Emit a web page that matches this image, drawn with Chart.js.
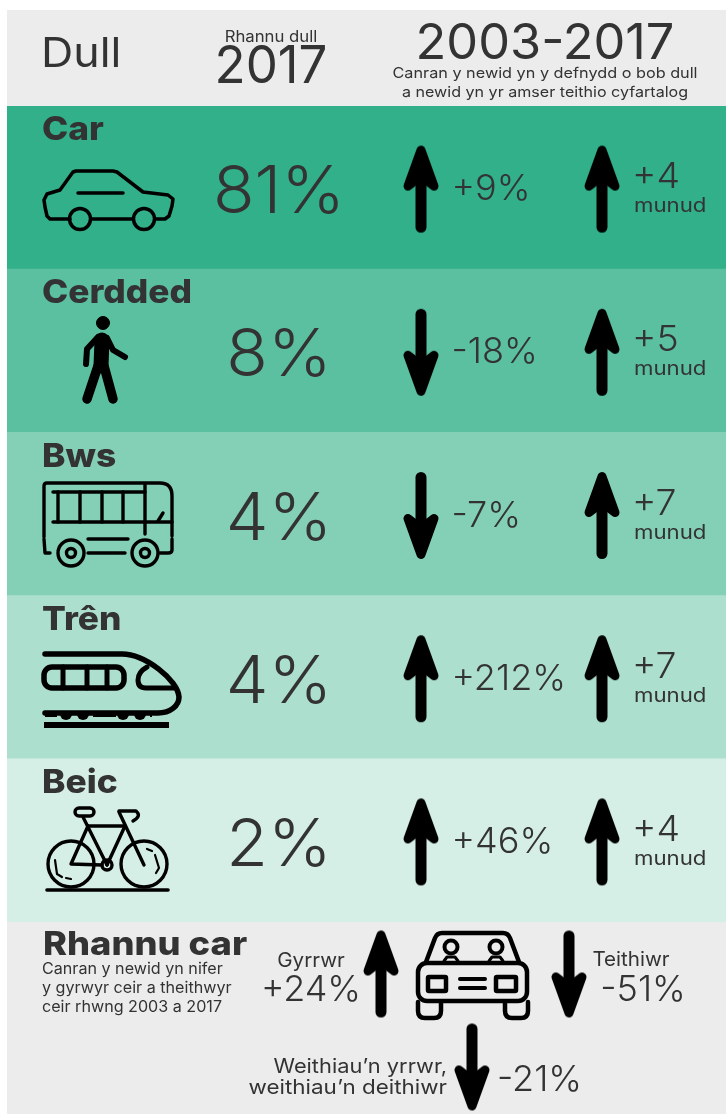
<!DOCTYPE html>
<html>
<head>
<meta charset="utf-8">
<title>Dull</title>
<script src="https://cdn.jsdelivr.net/npm/chart.js@4"></script>
<style>
	html, body { margin: 0; padding: 0; background: #fff; }
	canvas { display: block; }
</style>
</head>
<body>
<canvas id="modesChart" width="726" height="922"></canvas>
<canvas id="shareChart" width="726" height="192"></canvas>
<script>
//Data

let modes = ['Car', 'Cerdded', 'Bws', 'Trên', 'Beic'];
let modeShare = [81, 8, 4, 4, 2];
let useChange = [9, -18, -7, 212, 46];
let timeChange = [4, 5, 7, 7, 4];

let shareGroups = ['Gyrrwr', 'Teithiwr', 'Weithiau’n yrrwr, weithiau’n deithiwr'];
let shareChange = [24, -51, -21];
let shareRows = ['uchaf', 'uchaf', 'isaf'];

let bandColors = ['#31b08a', '#5bc0a0', '#84d0b7', '#addfce', '#d5efe6'];
const GREY = '#ececec';
const INK = '#333333';
const FONT = 'Inter, "Open Sans", sans-serif';

function signed(v) {
	return (v > 0 ? '+' : '') + v;
}

//Arrow marks, used as point styles

function makeArrow(up) {
	let c = document.createElement('canvas');
	c.width = 40;
	c.height = 96;
	let g = c.getContext('2d');
	g.translate(0, 3.5);
	if (!up) {
		g.translate(0, 92);
		g.scale(1, -1);
	}
	g.fillStyle = '#000';
	g.strokeStyle = '#000';
	g.lineCap = 'round';
	g.lineJoin = 'round';
	g.lineWidth = 11;
	g.beginPath();
	g.moveTo(20, 14);
	g.lineTo(20, 84);
	g.stroke();
	g.lineWidth = 9;
	g.beginPath();
	g.moveTo(20, 7);
	g.lineTo(33, 43);
	g.lineTo(20, 33);
	g.lineTo(7, 43);
	g.closePath();
	g.fill();
	g.stroke();
	return c;
}
let arrowUp = makeArrow(true);
let arrowDown = makeArrow(false);

function arrowFor(context) {
	return context.raw && context.raw.change < 0 ? arrowDown : arrowUp;
}

//Text helper, stretched a bit since Montserrat is not installed

function text(ctx, str, x, y, size, weight, align, stretch) {
	ctx.save();
	ctx.font = weight + ' ' + size + 'px ' + FONT;
	ctx.fillStyle = INK;
	ctx.textAlign = align || 'left';
	ctx.textBaseline = 'alphabetic';
	ctx.translate(x, y);
	ctx.scale(stretch || 1.06, 1);
	ctx.fillText(str, 0, 0);
	ctx.restore();
}

function line(ctx, pts, width) {
	ctx.lineWidth = width;
	ctx.beginPath();
	ctx.moveTo(pts[0], pts[1]);
	for (let i = 2; i < pts.length; i += 2) {
		ctx.lineTo(pts[i], pts[i + 1]);
	}
	ctx.stroke();
}

function circle(ctx, x, y, r, width, fill) {
	ctx.lineWidth = width;
	ctx.beginPath();
	ctx.arc(x, y, r, 0, Math.PI * 2);
	if (fill) ctx.fill();
	ctx.stroke();
}

//Icons

function drawCar(ctx) {
	line(ctx, [70, 219, 50, 219, 47, 216, 45, 207, 44, 200, 47, 194, 60, 190, 73, 172, 76, 171, 113, 171, 117, 172, 143, 192, 168, 195, 173, 199, 172, 206, 169, 216, 165, 219, 155, 219], 3.5);
	line(ctx, [91, 219, 133, 219], 3.5);
	line(ctx, [78, 193, 123, 193], 3.5);
	circle(ctx, 80, 219, 10.5, 3.5);
	circle(ctx, 144, 219, 10.5, 3.5);
}

function drawWalker(ctx) {
	circle(ctx, 103, 323, 6.5, 1, true);
	line(ctx, [98, 337, 87, 349, 86, 364], 6);
	line(ctx, [107, 338, 113, 350, 125, 357], 6);
	line(ctx, [102, 340, 101, 366], 15);
	line(ctx, [98, 366, 87, 399], 9.5);
	line(ctx, [104, 366, 113, 399], 9.5);
}

function drawBus(ctx) {
	ctx.lineWidth = 3.4;
	ctx.beginPath();
	ctx.moveTo(50, 553);
	ctx.lineTo(45, 553);
	ctx.lineTo(44, 539);
	ctx.moveTo(44, 537);
	ctx.lineTo(44, 486);
	ctx.quadraticCurveTo(44, 483, 47, 483);
	ctx.lineTo(160, 483);
	ctx.quadraticCurveTo(172, 483, 172, 496);
	ctx.lineTo(172, 536);
	ctx.moveTo(172, 539);
	ctx.lineTo(172, 550);
	ctx.quadraticCurveTo(172, 553, 168, 553);
	ctx.lineTo(160, 553);
	ctx.stroke();
	line(ctx, [53, 492, 145, 492], 3.4);
	line(ctx, [53, 522, 172, 522], 3.4);
	[58, 80, 102, 123].forEach((x) => line(ctx, [x, 492, x, 522], 3.4));
	line(ctx, [145, 485, 145, 534], 3.4);
	line(ctx, [158, 521, 163, 513], 3.4);
	line(ctx, [88, 539, 128, 539], 3.4);
	line(ctx, [88, 553, 125, 553], 3.4);
	[71, 145].forEach((x) => {
		circle(ctx, x, 553, 13, 3.4);
		circle(ctx, x, 553, 4.5, 3.4);
	});
}

function drawTrain(ctx) {
	ctx.lineWidth = 5.5;
	ctx.beginPath();
	ctx.moveTo(45, 654);
	ctx.lineTo(122, 654);
	ctx.bezierCurveTo(145, 654, 178, 680, 179, 697);
	ctx.bezierCurveTo(179, 706, 170, 713, 158, 713);
	ctx.lineTo(45, 713);
	ctx.stroke();
	ctx.lineWidth = 5.5;
	ctx.beginPath();
	ctx.roundRect(44, 667, 80, 21, 8);
	ctx.stroke();
	[63, 87, 107].forEach((x) => line(ctx, [x, 667, x, 688], 5));
	ctx.beginPath();
	ctx.moveTo(147, 667);
	ctx.quadraticCurveTo(138, 672, 138, 680);
	ctx.quadraticCurveTo(138, 688, 146, 688);
	ctx.lineTo(175, 688);
	ctx.stroke();
	ctx.fillRect(44, 722, 125, 6);
	[66, 83, 123, 140].forEach((x) => {
		ctx.beginPath();
		ctx.arc(x, 714, 6, 0, Math.PI);
		ctx.fill();
	});
	[[45, 57], [93, 116], [150, 152]].forEach((p) => ctx.fillRect(p[0], 714, p[1] - p[0], 3));
}

function drawBike(ctx) {
	circle(ctx, 71, 864, 23, 3.4);
	circle(ctx, 144, 864, 23, 3.4);
	circle(ctx, 107, 865, 5, 3.4);
	line(ctx, [47, 890, 168, 890], 3.6);
	line(ctx, [83, 817, 107, 865], 3.4);
	line(ctx, [88, 826, 125, 826], 3.4);
	line(ctx, [125, 826, 107, 865], 3.4);
	line(ctx, [88, 826, 71, 864, 102, 865], 3.4);
	line(ctx, [119, 812, 144, 865], 3.4);
	ctx.lineWidth = 3.4;
	ctx.beginPath();
	ctx.roundRect(75, 808, 19, 8, 4);
	ctx.stroke();
	ctx.beginPath();
	ctx.moveTo(119, 811);
	ctx.lineTo(136, 811);
	ctx.quadraticCurveTo(142, 816, 133, 821);
	ctx.stroke();
	line(ctx, [55, 860, 57, 874, 62, 877], 2.2);
	line(ctx, [66, 878, 71, 879], 2.2);
	line(ctx, [147, 849, 152, 851], 2.2);
	line(ctx, [155, 855, 159, 868, 156, 873], 2.2);
}

function drawSharedCar(ctx) {
	ctx.lineWidth = 4.5;
	ctx.beginPath();
	ctx.moveTo(426, 962);
	ctx.lineTo(435, 938);
	ctx.quadraticCurveTo(437, 933, 442, 933);
	ctx.lineTo(503, 933);
	ctx.quadraticCurveTo(508, 933, 510, 938);
	ctx.lineTo(519, 962);
	ctx.stroke();
	ctx.beginPath();
	ctx.roundRect(418, 963, 109, 38, 9);
	ctx.stroke();
	ctx.beginPath();
	ctx.roundRect(428, 977, 18, 14, 1);
	ctx.roundRect(496, 977, 20, 14, 1);
	ctx.stroke();
	line(ctx, [460, 979, 485, 979], 4);
	line(ctx, [460, 988, 485, 988], 4);
	[418, 505].forEach((x) => {
		ctx.lineWidth = 4.5;
		ctx.beginPath();
		ctx.moveTo(x, 1002);
		ctx.lineTo(x, 1011);
		ctx.quadraticCurveTo(x, 1018, 7 + x, 1018);
		ctx.lineTo(16 + x, 1018);
		ctx.quadraticCurveTo(23 + x, 1018, 23 + x, 1011);
		ctx.lineTo(23 + x, 1002);
		ctx.stroke();
	});
	[451, 496].forEach((x) => {
		circle(ctx, x, 947, 6.5, 4);
		line(ctx, [x - 7, 961, x - 4, 957, x + 4, 957, x + 7, 961], 3);
	});
}

//Plugin for the upper chart: header, row text and icons

let modesPlugin = {
	id: 'modesPlugin',
	beforeDraw(chart) {
		let ctx = chart.ctx;
		ctx.save();
		ctx.fillStyle = GREY;
		ctx.fillRect(7, 10, 719, 96);
		ctx.restore();
		text(ctx, 'Dull', 41, 67, 41, 400, 'left', 1.09);
		text(ctx, 'Rhannu dull', 271, 42, 15.5, 400, 'center', 1.08);
		text(ctx, '2017', 271, 83, 52, 400, 'center', 0.98);
		text(ctx, '2003-2017', 545, 59, 49, 400, 'center', 1.03);
		text(ctx, 'Canran y newid yn y defnydd o bob dull', 545, 78, 14.5, 400, 'center', 1.12);
		text(ctx, 'a newid yn yr amser teithio cyfartalog', 545, 97, 14.5, 400, 'center', 1.11);
	},
	afterDraw(chart) {
		let ctx = chart.ctx;
		let y = chart.scales.y;
		modes.forEach((name, i) => {
			let mid = y.getPixelForValue(i);
			text(ctx, name, 42, mid - 47.5, 33, 800, 'left', 1.07);
			text(ctx, modeShare[i] + '%', 279, mid + 25.5, 66, 350, 'center', 1.03);
			text(ctx, signed(useChange[i]) + '%', 451.5, mid + 12.5, 35, 350, 'left', 1.03);
			text(ctx, signed(timeChange[i]), 632, mid + 0.5, 36, 350, 'left', 1.04);
			text(ctx, 'munud', 634, mid + 24.5, 20, 400, 'left', 1.11);
		});
		ctx.save();
		ctx.strokeStyle = '#000';
		ctx.fillStyle = '#000';
		ctx.lineCap = 'round';
		ctx.lineJoin = 'round';
		drawCar(ctx);
		drawWalker(ctx);
		drawBus(ctx);
		drawTrain(ctx);
		drawBike(ctx);
		ctx.restore();
	}
};

//Plugin for the lower chart, page coordinates so shift up by the upper canvas

let sharePlugin = {
	id: 'sharePlugin',
	beforeDraw(chart) {
		let ctx = chart.ctx;
		ctx.save();
		ctx.fillStyle = GREY;
		ctx.fillRect(7, 0, 719, 192);
		ctx.restore();
	},
	afterDraw(chart) {
		let ctx = chart.ctx;
		let parts = shareGroups[2].split(', ');
		ctx.save();
		ctx.translate(0, -922);
		text(ctx, 'Rhannu car', 43, 955, 33, 800, 'left', 1.1);
		text(ctx, 'Canran y newid yn nifer', 42, 974, 15.5, 400, 'left', 1.04);
		text(ctx, 'y gyrwyr ceir a theithwyr', 42, 993, 15.5, 400, 'left', 1.04);
		text(ctx, 'ceir rhwng 2003 a 2017', 42, 1012, 15.5, 400, 'left', 1.04);
		text(ctx, shareGroups[0], 311, 967, 20, 400, 'center', 1.03);
		text(ctx, signed(shareChange[0]) + '%', 311, 1001, 36, 350, 'center', 1.0);
		text(ctx, shareGroups[1], 631, 966, 20, 400, 'center', 1.03);
		text(ctx, signed(shareChange[1]) + '%', 643, 1001, 36, 350, 'center', 1.0);
		text(ctx, parts[0] + ',', 447, 1073, 20, 400, 'right', 1.09);
		text(ctx, parts[1], 447, 1094, 20, 400, 'right', 1.12);
		text(ctx, signed(shareChange[2]) + '%', 497, 1091, 36, 350, 'left', 1.0);
		ctx.strokeStyle = '#000';
		ctx.fillStyle = '#000';
		ctx.lineCap = 'round';
		ctx.lineJoin = 'round';
		drawSharedCar(ctx);
		ctx.restore();
	}
};

//Build charts

const modesChart = new Chart(document.getElementById('modesChart').getContext('2d'), {
	type: 'bar',
	data: {
		labels: modes,
		datasets: [
			{
				type: 'scatter',
				label: 'Newid defnydd',
				xAxisID: 'x',
				yAxisID: 'y',
				data: modes.map((m, i) => ({ x: 421, y: m, change: useChange[i] })),
				pointStyle: arrowFor,
				order: 0
			},
			{
				type: 'scatter',
				label: 'Newid amser',
				xAxisID: 'x',
				yAxisID: 'y',
				data: modes.map((m, i) => ({ x: 602, y: m, change: timeChange[i] })),
				pointStyle: arrowFor,
				order: 0
			},
			{
				label: 'Rhes',
				data: modes.map(() => 726),
				backgroundColor: bandColors,
				barPercentage: 1,
				categoryPercentage: 1,
				order: 1
			}
		]
	},
	options: {
		indexAxis: 'y',
		responsive: false,
		animation: false,
		layout: { autoPadding: false, padding: { left: 7, top: 106 } },
		plugins: { legend: { display: false }, tooltip: { enabled: false } },
		scales: {
			x: { type: 'linear', min: 7, max: 726, display: false },
			y: { type: 'category', labels: modes, offset: true, display: false }
		}
	},
	plugins: [modesPlugin]
});

const shareChart = new Chart(document.getElementById('shareChart').getContext('2d'), {
	type: 'scatter',
	data: {
		datasets: [{
			label: 'Rhannu car',
			data: shareGroups.map((g, i) => ({ x: [381, 569, 472][i], y: shareRows[i], change: shareChange[i] })),
			pointStyle: arrowFor,
			clip: false
		}]
	},
	options: {
		responsive: false,
		animation: false,
		layout: { autoPadding: false, padding: { top: 4, bottom: 2 } },
		plugins: { legend: { display: false }, tooltip: { enabled: false } },
		scales: {
			x: { type: 'linear', min: 0, max: 726, display: false },
			y: { type: 'category', labels: ['uchaf', 'isaf'], offset: true, display: false }
		}
	},
	plugins: [sharePlugin]
});
</script>
</body>
</html>
